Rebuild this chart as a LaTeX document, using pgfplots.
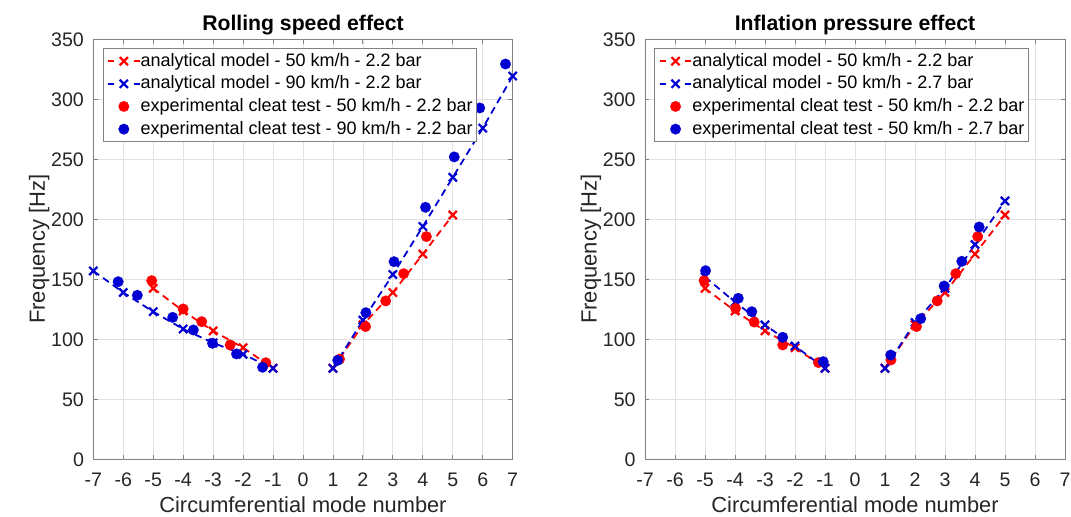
\documentclass[border=0pt]{standalone}
\usepackage{fontspec}
\setmainfont{Liberation Sans}
\usepackage{pgfplots}
\pgfplotsset{compat=1.18}
\definecolor{mred}{RGB}{255,0,0}
\definecolor{mblue}{RGB}{0,0,210}
\definecolor{axgray}{RGB}{38,38,38}
\definecolor{gridgray}{RGB}{225,225,225}
\definecolor{boxgray}{RGB}{130,130,130}

\pgfplotsset{
  myaxis/.style={
    scale only axis, width=209.7pt, height=210pt,
    xmin=-7, xmax=7, ymin=0, ymax=350,
    xtick={-7,-6,-5,-4,-3,-2,-1,0,1,2,3,4,5,6,7},
    xticklabels={-7,-6,-5,-4,-3,-2,-1,0,1,2,3,4,5,6,7},
    ytick={0,50,100,150,200,250,300,350},
    tick align=inside, tick pos=both,
    major tick length=2.1pt,
    grid=major, grid style={gridgray, line width=0.4pt},
    axis line style={boxgray, line width=0.45pt},
    every tick/.style={boxgray, line width=0.45pt},
    /pgf/number format/assume math mode=true,
    tick label style={font=\fontsize{9.8}{11}\selectfont, text=axgray},
    xticklabel style={anchor=base, inner sep=0pt, yshift=-13.35pt},
    yticklabel style={anchor=east, inner sep=0pt, xshift=-4.5pt},
    every axis x label/.style={at={(axis description cs:0.5,-0.1255)}, anchor=base, font=\fontsize{10.9}{12}\selectfont, text=axgray},
    every axis y label/.style={at={(axis description cs:-0.1152,0.5)}, rotate=90, anchor=base, font=\fontsize{11}{12}\selectfont, text=axgray},
    every axis title/.style={at={(axis description cs:0.5,1.0221)}, anchor=base, font=\bfseries\fontsize{10.6}{12}\selectfont, text=black},
    xlabel={Circumferential mode number},
    ylabel={Frequency [Hz]},
    unbounded coords=jump,
    legend cell align=left,
    legend style={
      at={(axis description cs:0.0224,0.9786)}, anchor=north west,
      draw=boxgray, line width=0.45pt, fill=white,
      font=\fontsize{9}{10}\selectfont, text=black,
      inner xsep=2pt, inner ysep=1.7pt,
      row sep=2.33pt,
      nodes={inner sep=0pt, text height=7pt, text depth=2pt},
      /tikz/every even column/.append style={column sep=1.7pt},
    },
  },
  ana/.style={
    color=#1, line width=0.9pt, dash pattern=on 3.6pt off 2.4pt,
    mark=x, mark size=2.9pt, mark options={solid, line width=1.1pt},
    legend image code/.code={
      \draw[mark repeat=2, mark phase=2, dash pattern=on 3pt off 9.8pt on 3pt off 2pt] plot coordinates {(0pt,0pt) (7.9pt,0pt) (15.8pt,0pt)};
    },
  },
  expt/.style={
    only marks, mark=*, mark size=2.65pt, color=#1, mark options={fill=#1, draw=#1, line width=0.1pt},
    legend image code/.code={
      \path (0pt,0pt) (15.8pt,0pt);
      \draw plot coordinates {(7.9pt,0pt)};
    },
  },
}

\begin{document}
\begin{tikzpicture}
\useasboundingbox (0,0) rectangle (535.5pt,258pt);

\begin{axis}[myaxis, at={(46.65pt,28.35pt)}, anchor=south west,
  title={Rolling speed effect}]
\addplot[ana=mred] coordinates {(-5,142.5) (-4,123.6) (-3,107) (-2,93) (-1,76) (0,nan) (1,76) (2,112) (3,139) (4,171) (5,203.6)};
\addlegendentry{analytical model - 50 km/h - 2.2 bar}
\addplot[ana=mblue] coordinates {(-7,157) (-6,139) (-5,123) (-4,108.6) (-3,97) (-2,87.5) (-1,75.8) (0,nan) (1,75.8) (2,116) (3,154) (4,194) (5,235) (6,276) (7,319.4)};
\addlegendentry{analytical model - 90 km/h - 2.2 bar}
\addplot[expt=mred] coordinates {(-5.05,148.9) (-4.0,125.3) (-3.38,114.7) (-2.43,95.3) (-1.24,80.5) (1.22,83.5) (2.09,110.6) (2.76,132) (3.36,154.7) (4.12,185.6)};
\addlegendentry{experimental cleat test - 50 km/h - 2.2 bar}
\addplot[expt=mblue] coordinates {(-6.17,148) (-5.53,136.7) (-4.35,118.3) (-3.66,107.8) (-3.02,96.7) (-2.22,87.8) (-1.35,76.7) (1.16,82.5) (2.1,122.2) (3.04,164.7) (4.09,210) (5.05,252) (5.9,292.8) (6.76,329.4)};
\addlegendentry{experimental cleat test - 90 km/h - 2.2 bar}
\node[anchor=base west, inner sep=0pt, font=\fontsize{10}{12}\selectfont, text=black] at (axis description cs:-0.1986,0.9888) {a)};
\end{axis}

\begin{axis}[myaxis, at={(322.5pt,28.35pt)}, anchor=south west, width=210pt,
  title={Inflation pressure effect}]
\addplot[ana=mred] coordinates {(-5,142.5) (-4,123.6) (-3,107) (-2,93) (-1,76) (0,nan) (1,76) (2,112) (3,139) (4,171) (5,203.6)};
\addlegendentry{analytical model - 50 km/h - 2.2 bar}
\addplot[ana=mblue] coordinates {(-5,152) (-4,131) (-3,112) (-2,94.4) (-1,75.8) (0,nan) (1,75.8) (2,114) (3,142.5) (4,179) (5,215.3)};
\addlegendentry{analytical model - 50 km/h - 2.7 bar}
\addplot[expt=mred] coordinates {(-5.03,148.9) (-3.98,125.8) (-3.36,114.4) (-2.41,95.3) (-1.22,80.6) (1.2,82.8) (2.05,110.6) (2.74,132) (3.36,154.7) (4.09,185.6)};
\addlegendentry{experimental cleat test - 50 km/h - 2.2 bar}
\addplot[expt=mblue] coordinates {(-4.98,157.2) (-3.89,134.2) (-3.44,123) (-2.41,101.7) (-1.06,81.4) (1.19,86.9) (2.19,117.2) (2.97,144.4) (3.56,165) (4.14,193.6)};
\addlegendentry{experimental cleat test - 50 km/h - 2.7 bar}
\node[anchor=base west, inner sep=0pt, font=\fontsize{10}{12}\selectfont, text=black] at (axis description cs:-0.2024,0.9888) {b)};
\end{axis}
\end{tikzpicture}
\end{document}
